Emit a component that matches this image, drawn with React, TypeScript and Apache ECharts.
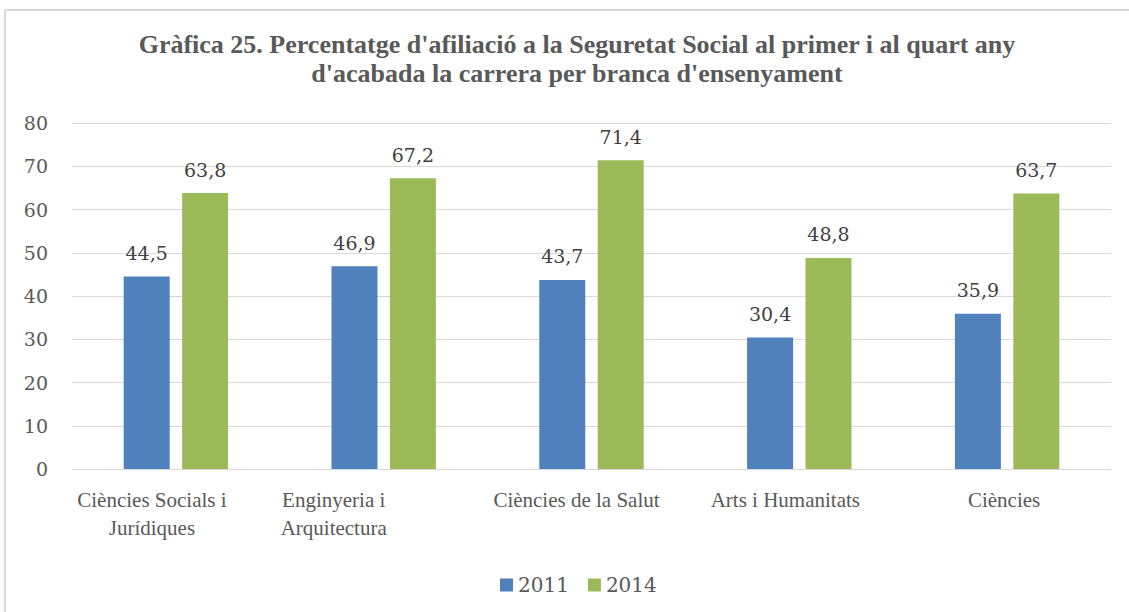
import React, { useEffect, useRef } from "react";
import * as echarts from "echarts";

const categories = [
  "Ciències Socials i\nJurídiques",
  "Enginyeria i\nArquitectura",
  "Ciències de la Salut",
  "Arts i Humanitats",
  "Ciències",
];
const series2011 = [44.5, 46.9, 43.7, 30.4, 35.9];
const series2014 = [63.8, 67.2, 71.4, 48.8, 63.7];
const yTicks = { min: 0, max: 80, interval: 10 };
const titleText =
  "Gràfica 25. Percentatge d'afiliació a la Seguretat Social al primer i al quart any\nd'acabada la carrera per branca d'ensenyament";

// horizontal label shifts (layout only)
const labelShift = [-24, -50, -15, -14, -3];

export default function App() {
  const ref = useRef<HTMLDivElement>(null);
  useEffect(() => {
    if (!ref.current) return;
    const chart = echarts.init(ref.current, null, { renderer: "svg" });
    const numFont = "'DejaVu Serif', serif";
    const txtFont = "'Liberation Serif', serif";
    const labelCfg = {
      show: true,
      position: "top",
      distance: 14,
      fontFamily: numFont,
      fontSize: 19,
      color: "#404040",
      formatter: (p: any) => String(p.value).replace(".", ","),
    };
    chart.setOption({
      animation: false,
      backgroundColor: "#ffffff",
      title: {
        text: titleText,
        left: 572,
        textAlign: "center",
        top: 25,
        textStyle: {
          fontFamily: txtFont,
          fontWeight: "bold",
          fontSize: 26,
          color: "#595959",
          lineHeight: 29,
        },
      },
      legend: {
        data: ["2011", "2014"],
        left: 495,
        top: 570,
        icon: "rect",
        itemWidth: 13,
        itemHeight: 13,
        itemGap: 19,
        textStyle: { fontFamily: numFont, fontSize: 20, color: "#595959" },
      },
      grid: { left: 72, right: 18, top: 123, bottom: 143, containLabel: false },
      xAxis: {
        type: "category",
        data: categories.map((c, i) => ({
          value: c,
          textStyle: {
            padding:
              labelShift[i] < 0
                ? [0, -2 * labelShift[i], 0, 0]
                : [0, 0, 0, 2 * labelShift[i]],
          },
        })),
        axisLine: { show: true, lineStyle: { color: "#d9d9d9", width: 1 } },
        axisTick: { show: false },
        axisLabel: {
          interval: 0,
          margin: 17,
          fontFamily: txtFont,
          fontSize: 21,
          lineHeight: 28,
          color: "#595959",
        },
      },
      yAxis: {
        type: "value",
        min: yTicks.min,
        max: yTicks.max,
        interval: yTicks.interval,
        axisLine: { show: false },
        axisTick: { show: false },
        splitLine: { lineStyle: { color: "#d9d9d9", width: 1 } },
        axisLabel: {
          margin: 24,
          fontFamily: numFont,
          fontSize: 19,
          color: "#595959",
        },
      },
      series: [
        {
          name: "2011",
          type: "bar",
          data: series2011,
          barWidth: 46,
          barGap: "27%",
          itemStyle: { color: "#4f81bd" },
          label: labelCfg,
        },
        {
          name: "2014",
          type: "bar",
          data: series2014,
          barWidth: 46,
          barGap: "27%",
          itemStyle: { color: "#9bbb59" },
          label: labelCfg,
        },
      ],
      graphic: [
        {
          type: "line",
          shape: { x1: 5, y1: 10, x2: 1129, y2: 10 },
          style: { stroke: "#d9d9d9", lineWidth: 2 },
        },
        {
          type: "line",
          shape: { x1: 5, y1: 10, x2: 5, y2: 612 },
          style: { stroke: "#d9d9d9", lineWidth: 2 },
        },
      ],
    });
    return () => chart.dispose();
  }, []);
  return (
    <div
      ref={ref}
      style={{ position: "fixed", left: 0, top: 0, width: 1129, height: 612 }}
    />
  );
}
